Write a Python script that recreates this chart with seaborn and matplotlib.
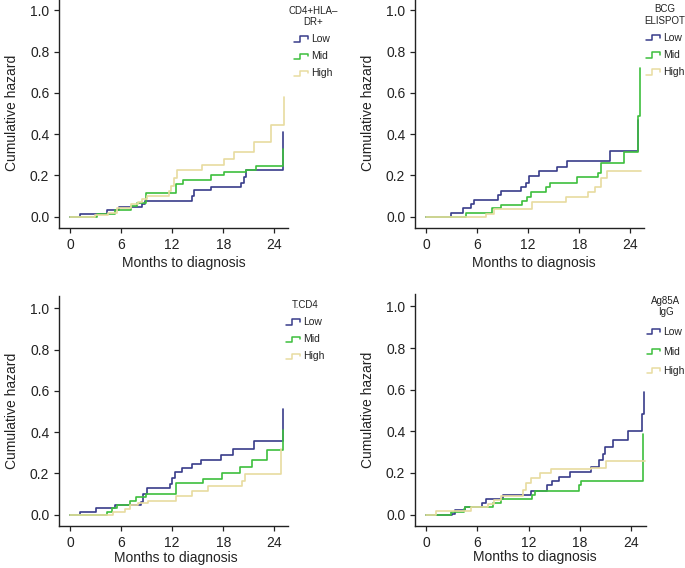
import numpy as np
import pandas as pd
import matplotlib
matplotlib.use("Agg")
import matplotlib.pyplot as plt
import seaborn as sns
from matplotlib.lines import Line2D
from matplotlib.legend_handler import HandlerBase

# (month, cumulative hazard) step points per group
p1_low = [(0, 0), (1.2, 0.015), (4.3, 0.03), (5.7, 0.045), (8.5, 0.06), (8.8, 0.078),
          (14.3, 0.1), (14.6, 0.127), (16.5, 0.145), (20.1, 0.165), (20.4, 0.19),
          (20.7, 0.225), (25.0, 0.41)]
p1_mid = [(0, 0), (3.2, 0.015), (5.3, 0.03), (7.1, 0.05), (7.9, 0.065), (8.9, 0.115),
          (12.4, 0.16), (13.3, 0.18), (16.5, 0.2), (18.1, 0.215), (20.7, 0.225),
          (21.8, 0.245), (25.0, 0.33)]
p1_high = [(0, 0), (2.9, 0.01), (4.5, 0.02), (5.5, 0.04), (7.2, 0.06), (8.0, 0.07),
           (8.5, 0.085), (9.0, 0.1), (11.6, 0.125), (11.9, 0.15), (12.2, 0.185),
           (12.6, 0.225), (15.5, 0.25), (18.1, 0.28), (19.3, 0.315), (21.6, 0.36),
           (23.6, 0.445), (25.1, 0.58)]

p2_low = [(0, 0), (2.9, 0.018), (4.3, 0.04), (5.3, 0.06), (5.6, 0.082), (8.5, 0.105),
          (8.8, 0.125), (11.1, 0.145), (11.7, 0.165), (12.1, 0.195), (13.3, 0.22),
          (15.4, 0.24), (16.5, 0.272), (21.6, 0.316), (24.9, 0.47)]
p2_mid = [(0, 0), (4.7, 0.02), (7.8, 0.04), (8.8, 0.057), (11.3, 0.075), (11.9, 0.095),
          (12.3, 0.12), (14.1, 0.145), (14.5, 0.165), (17.7, 0.19), (20.2, 0.21),
          (20.6, 0.26), (23.2, 0.315), (24.9, 0.49), (25.1, 0.72)]
p2_high = [(0, 0), (7.0, 0.015), (8.0, 0.035), (12.5, 0.072), (16.4, 0.095), (19.0, 0.12),
           (19.8, 0.145), (20.6, 0.185), (21.3, 0.22), (25.2, 0.22)]

p3_low = [(0, 0), (1.2, 0.015), (3.0, 0.03), (5.3, 0.045), (8.3, 0.06), (8.6, 0.1),
          (9.0, 0.13), (11.7, 0.15), (12.0, 0.18), (12.3, 0.205), (13.1, 0.225),
          (14.3, 0.245), (15.4, 0.265), (17.7, 0.29), (19.1, 0.32), (21.6, 0.355),
          (25.0, 0.51)]
p3_mid = [(0, 0), (4.3, 0.015), (4.9, 0.03), (5.5, 0.045), (7.0, 0.065), (7.8, 0.085),
          (8.9, 0.1), (12.4, 0.155), (15.6, 0.175), (17.9, 0.2), (20.0, 0.23),
          (21.4, 0.265), (23.1, 0.315), (25.0, 0.41)]
p3_high = [(0, 0), (5.1, 0.012), (6.4, 0.025), (7.0, 0.045), (8.0, 0.055), (9.1, 0.065),
           (12.4, 0.09), (14.3, 0.115), (16.2, 0.14), (20.2, 0.165), (20.6, 0.195),
           (24.8, 0.32)]

p4_low = [(0, 0), (3.0, 0.005), (3.4, 0.02), (4.6, 0.035), (6.6, 0.055), (7.0, 0.075),
          (9.0, 0.095), (12.3, 0.115), (14.2, 0.14), (14.7, 0.16), (15.6, 0.18),
          (16.8, 0.205), (19.3, 0.23), (20.3, 0.26), (20.7, 0.29), (20.9, 0.325),
          (21.9, 0.36), (23.6, 0.40), (25.3, 0.485), (25.5, 0.59)]
p4_mid = [(0, 0), (2.9, 0.012), (4.4, 0.025), (4.6, 0.035), (7.8, 0.055), (8.8, 0.075),
          (12.4, 0.095), (12.7, 0.115), (17.9, 0.14), (18.1, 0.16), (25.4, 0.385)]
p4_high = [(0, 0), (1.2, 0.015), (5.3, 0.035), (7.2, 0.05), (8.0, 0.07), (8.8, 0.09),
           (11.3, 0.12), (11.7, 0.15), (12.3, 0.175), (13.3, 0.2), (14.6, 0.22),
           (19.3, 0.225), (21.1, 0.255), (25.6, 0.255)]

groups = ["Low", "Mid", "High"]
titles = ["CD4+HLA–\nDR+", "BCG\nELISPOT", "T.CD4", "Ag85A\nIgG"]
series = [(p1_low, p1_mid, p1_high), (p2_low, p2_mid, p2_high),
          (p3_low, p3_mid, p3_high), (p4_low, p4_mid, p4_high)]
palette = {"Low": "#383c8a", "Mid": "#3dbf3d", "High": "#e8dca0"}


class StepHandler(HandlerBase):
    # little step-shaped legend key like the survival plot legends
    def create_artists(self, legend, orig_handle, xdescent, ydescent,
                       width, height, fontsize, trans):
        xs = np.array([0.0, 0.4, 0.4, 1.0, 1.0]) * width - xdescent
        ys = np.array([0.1, 0.1, 0.8, 0.8, 0.45]) * height - ydescent
        line = Line2D(xs, ys, color=orig_handle.get_color(), lw=1.1)
        line.set_transform(trans)
        return [line]


sns.set_style("ticks")
plt.rcParams["font.family"] = ["Liberation Sans", "DejaVu Sans"]
plt.rcParams["text.color"] = "#222222"
plt.rcParams["axes.labelcolor"] = "#222222"
plt.rcParams["xtick.color"] = "#222222"
plt.rcParams["ytick.color"] = "#222222"

fig = plt.figure(figsize=(6.85, 5.68), dpi=100)
W, H = 685, 568
# axes boxes in pixels: left, bottom-from-top, width, height
boxes = [(59, 228, 229, 230), (415, 228, 229, 230),
         (59, 526, 229, 230), (415, 526, 231, 232)]
xmax = [25.6, 25.6, 25.6, 25.75]
xlab_pos = [(0.545, -0.12), (0.52, -0.12), (0.51, -0.108), (0.517, -0.105)]
leg_anchor = [(0.985, 0.985), (0.985, 0.99), (0.975, 1.0), (0.985, 1.01)]
leg_spacing = [0.68, 0.68, 0.68, 0.92]

for i, (box, title) in enumerate(zip(boxes, titles)):
    left, bot, w, h = box
    ax = fig.add_axes([left / W, 1 - bot / H, w / W, h / H])
    rows = []
    for g, pts in zip(groups, series[i]):
        for t, v in pts:
            rows.append({"month": t, "hazard": v, "group": g})
    df = pd.DataFrame(rows)
    sns.lineplot(data=df, x="month", y="hazard", hue="group", hue_order=groups,
                 palette=palette, estimator=None, drawstyle="steps-post",
                 linewidth=1.2, ax=ax)

    ax.set_xlim(-1.3, xmax[i])
    ax.set_ylim(-0.055, 1.06)
    ax.set_xticks([0, 6, 12, 18, 24])
    ax.set_yticks([0, 0.2, 0.4, 0.6, 0.8, 1.0])
    ax.set_yticklabels([f"{v:.1f}" for v in [0, 0.2, 0.4, 0.6, 0.8, 1.0]])
    ax.tick_params(labelsize=10, length=3.5, width=0.9)
    ax.set_xlabel("Months to diagnosis", fontsize=10)
    ax.set_ylabel("Cumulative hazard", fontsize=10, labelpad=8)
    ax.xaxis.set_label_coords(*xlab_pos[i])
    sns.despine(ax=ax)
    for s in ["left", "bottom"]:
        ax.spines[s].set_linewidth(1.0)
        ax.spines[s].set_color("#222222")

    handles, labels = ax.get_legend_handles_labels()
    leg = ax.legend(handles, labels, title=title, loc="upper left",
                    bbox_to_anchor=leg_anchor[i], borderaxespad=0, frameon=False,
                    fontsize=7.5, title_fontsize=7, handlelength=1.3,
                    handletextpad=0.3, labelspacing=leg_spacing[i],
                    handler_map={Line2D: StepHandler()})
    leg.get_title().set_multialignment("center")

fig.savefig("out.png", dpi=100)
